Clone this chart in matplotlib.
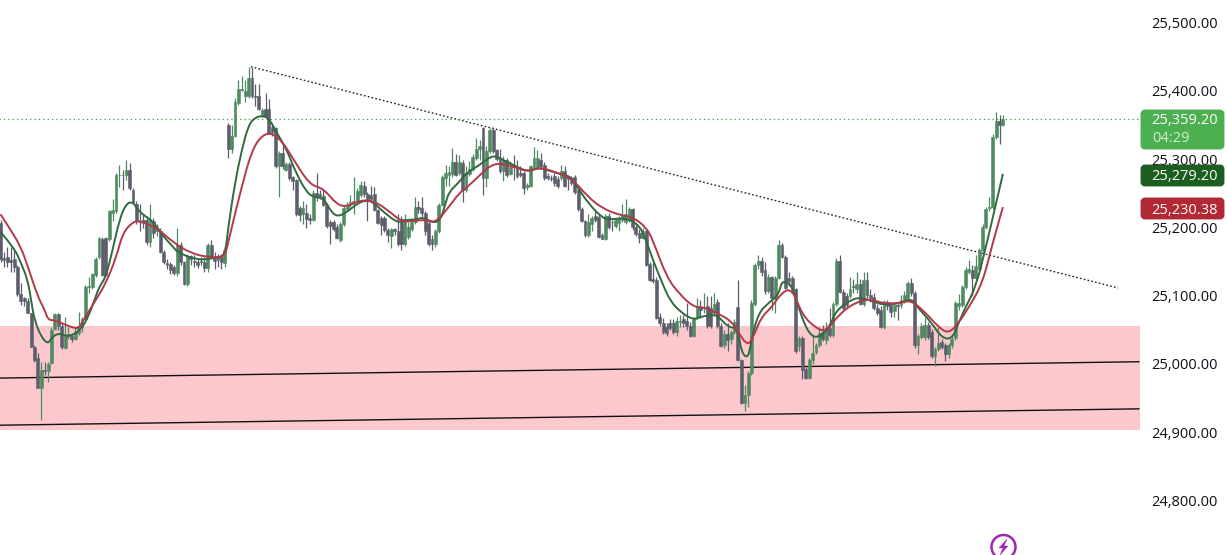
import matplotlib
matplotlib.use("Agg")
import matplotlib.pyplot as plt
from matplotlib.path import Path
from matplotlib.patches import FancyBboxPatch, Circle, Polygon, PathPatch

opens = [
    25207, 25156, 25157, 25153, 25155, 25143, 25103, 25097, 25093, 25076,
    25026, 25009, 24966, 24992, 24991, 25002, 25052, 25074, 25056, 25024,
    25042, 25042, 25038, 25046, 25055, 25067, 25113, 25113, 25131, 25157,
    25183, 25185, 25183, 25222, 25224, 25277, 25278, 25277, 25285, 25256,
    25235, 25212, 25212, 25212, 25180, 25210, 25195, 25195, 25165, 25148,
    25147, 25143, 25134, 25175, 25150, 25118, 25159, 25151, 25150, 25151,
    25150, 25141, 25175, 25158, 25156, 25157, 25148, 25351, 25315, 25335,
    25383, 25402, 25393, 25393, 25419, 25393, 25393, 25364, 25374, 25374,
    25347, 25346, 25290, 25309, 25285, 25294, 25274, 25270, 25229, 25220,
    25222, 25214, 25212, 25251, 25250, 25246, 25234, 25209, 25209, 25202,
    25182, 25206, 25228, 25235, 25238, 25240, 25248, 25262, 25249, 25248,
    25249, 25226, 25214, 25214, 25197, 25188, 25198, 25195, 25213, 25176,
    25187, 25198, 25209, 25231, 25229, 25222, 25207, 25184, 25176, 25195,
    25234, 25273, 25278, 25279, 25296, 25280, 25295, 25256, 25279, 25286,
    25302, 25315, 25346, 25273, 25312, 25343, 25314, 25302, 25283, 25299,
    25279, 25292, 25289, 25281, 25280, 25260, 25262, 25289, 25289, 25300,
    25292, 25276, 25273, 25276, 25272, 25273, 25283, 25274, 25273, 25275,
    25256, 25228, 25210, 25190, 25205, 25217, 25216, 25189, 25184, 25218,
    25209, 25203, 25207, 25212, 25209, 25212, 25227, 25202, 25192, 25185,
    25195, 25147, 25125, 25124, 25069, 25061, 25055, 25061, 25061, 25047,
    25062, 25066, 25063, 25056, 25042, 25069, 25084, 25082, 25086, 25083,
    25075, 25092, 25057, 25028, 25044, 25037, 25047, 25084, 25006, 24944,
    24956, 24988, 25088, 25146, 25151, 25139, 25107, 25128, 25097, 25127,
    25175, 25158, 25127, 25127, 25110, 25027, 25039, 24993, 24980, 25007,
    25018, 25028, 25048, 25036, 25053, 25043, 25088, 25152, 25106, 25100,
    25100, 25115, 25111, 25118, 25089, 25124, 25102, 25099, 25083, 25080,
    25055, 25092, 25087, 25078, 25087, 25087, 25095, 25097, 25119, 25105,
    25028, 25040, 25040, 25058, 25048, 25012, 25022, 25033, 25028, 25016,
    25028, 25039, 25085, 25087, 25114, 25136, 25138, 25127, 25140, 25167,
    25201, 25229, 25231, 25333, 25357, 25351,
]
closes = [
    25155, 25153, 25150, 25150, 25142, 25103, 25093, 25093, 25076, 25026,
    25007, 24966, 24992, 24991, 25001, 25051, 25074, 25056, 25025, 25041,
    25044, 25037, 25048, 25057, 25067, 25114, 25115, 25132, 25155, 25185,
    25131, 25131, 25224, 25226, 25277, 25278, 25277, 25285, 25258, 25238,
    25212, 25211, 25209, 25180, 25212, 25193, 25197, 25165, 25150, 25146,
    25139, 25134, 25175, 25150, 25118, 25159, 25154, 25150, 25146, 25150,
    25141, 25175, 25158, 25152, 25153, 25150, 25168, 25315, 25335, 25385,
    25404, 25404, 25401, 25419, 25393, 25392, 25374, 25372, 25364, 25339,
    25340, 25290, 25309, 25290, 25294, 25273, 25268, 25220, 25219, 25229,
    25213, 25212, 25251, 25245, 25246, 25234, 25203, 25203, 25199, 25185,
    25206, 25229, 25234, 25238, 25239, 25254, 25263, 25249, 25242, 25242,
    25226, 25207, 25204, 25197, 25190, 25198, 25196, 25176, 25176, 25213,
    25202, 25208, 25231, 25228, 25222, 25195, 25176, 25176, 25195, 25234,
    25275, 25280, 25282, 25296, 25278, 25296, 25256, 25280, 25286, 25304,
    25315, 25320, 25273, 25312, 25344, 25313, 25301, 25283, 25300, 25278,
    25289, 25289, 25276, 25277, 25258, 25263, 25290, 25302, 25302, 25290,
    25273, 25273, 25272, 25265, 25261, 25283, 25262, 25271, 25265, 25253,
    25227, 25210, 25190, 25208, 25214, 25212, 25187, 25184, 25218, 25201,
    25208, 25211, 25214, 25219, 25221, 25227, 25201, 25191, 25185, 25195,
    25146, 25124, 25122, 25068, 25060, 25047, 25046, 25053, 25047, 25063,
    25064, 25061, 25057, 25042, 25067, 25086, 25080, 25084, 25056, 25056,
    25089, 25056, 25027, 25044, 25036, 25047, 25062, 25007, 24944, 24956,
    24988, 25090, 25146, 25151, 25136, 25107, 25128, 25097, 25127, 25175,
    25158, 25112, 25122, 25110, 25019, 25039, 24992, 24980, 25007, 25017,
    25028, 25046, 25037, 25053, 25043, 25088, 25152, 25106, 25082, 25087,
    25111, 25113, 25118, 25089, 25124, 25102, 25097, 25083, 25075, 25055,
    25089, 25085, 25077, 25087, 25086, 25095, 25102, 25119, 25105, 25028,
    25041, 25056, 25058, 25040, 25012, 25022, 25032, 25026, 25015, 25028,
    25038, 25090, 25090, 25113, 25139, 25140, 25126, 25144, 25167, 25202,
    25227, 25231, 25333, 25357, 25351, 25359.2,
]
highs = [
    25212, 25165, 25172, 25172, 25168, 25146, 25119, 25099, 25097, 25076,
    25028, 25017, 25004, 25004, 25003, 25055, 25075, 25075, 25060, 25069,
    25055, 25045, 25055, 25077, 25070, 25116, 25128, 25134, 25157, 25187,
    25186, 25187, 25226, 25243, 25280, 25292, 25285, 25299, 25295, 25258,
    25240, 25235, 25220, 25218, 25235, 25215, 25205, 25200, 25167, 25155,
    25150, 25146, 25200, 25180, 25152, 25162, 25160, 25160, 25155, 25157,
    25158, 25178, 25182, 25165, 25162, 25162, 25172, 25353, 25350, 25390,
    25416, 25423, 25416, 25435, 25435, 25411, 25410, 25375, 25397, 25388,
    25350, 25348, 25312, 25325, 25297, 25296, 25276, 25272, 25232, 25240,
    25235, 25220, 25255, 25280, 25255, 25255, 25236, 25212, 25211, 25206,
    25208, 25232, 25238, 25248, 25275, 25258, 25268, 25268, 25252, 25262,
    25260, 25228, 25218, 25217, 25200, 25200, 25200, 25220, 25218, 25220,
    25208, 25212, 25245, 25240, 25245, 25225, 25210, 25190, 25198, 25237,
    25277, 25292, 25290, 25317, 25308, 25306, 25300, 25290, 25298, 25308,
    25332, 25328, 25348, 25320, 25346, 25347, 25315, 25315, 25305, 25302,
    25298, 25307, 25300, 25290, 25284, 25266, 25292, 25318, 25314, 25310,
    25297, 25280, 25278, 25280, 25276, 25292, 25290, 25278, 25276, 25278,
    25258, 25230, 25212, 25220, 25218, 25225, 25220, 25192, 25220, 25222,
    25212, 25215, 25218, 25235, 25242, 25230, 25229, 25205, 25198, 25200,
    25197, 25150, 25150, 25128, 25075, 25068, 25060, 25067, 25067, 25070,
    25072, 25072, 25090, 25062, 25070, 25098, 25095, 25105, 25100, 25100,
    25105, 25096, 25060, 25050, 25060, 25050, 25066, 25123, 25008, 24970,
    24990, 25095, 25148, 25160, 25158, 25150, 25132, 25130, 25130, 25182,
    25178, 25160, 25135, 25130, 25112, 25042, 25042, 24996, 25010, 25042,
    25032, 25055, 25058, 25062, 25082, 25092, 25156, 25160, 25110, 25105,
    25128, 25125, 25135, 25125, 25135, 25135, 25110, 25105, 25088, 25085,
    25095, 25095, 25092, 25090, 25090, 25102, 25108, 25122, 25127, 25108,
    25044, 25060, 25068, 25062, 25052, 25025, 25055, 25038, 25031, 25032,
    25043, 25093, 25103, 25116, 25142, 25153, 25145, 25160, 25170, 25205,
    25230, 25245, 25337, 25369, 25365, 25365,
]
lows = [
    25150, 25142, 25143, 25135, 25135, 25100, 25087, 25085, 25075, 25025,
    25003, 24966, 24918, 24985, 24974, 25000, 25050, 25050, 25022, 25022,
    25038, 25033, 25036, 25043, 25048, 25065, 25105, 25110, 25128, 25155,
    25129, 25129, 25181, 25210, 25222, 25260, 25255, 25270, 25256, 25236,
    25205, 25195, 25200, 25175, 25172, 25185, 25188, 25163, 25147, 25140,
    25133, 25131, 25130, 25145, 25116, 25115, 25145, 25142, 25141, 25146,
    25135, 25135, 25155, 25140, 25143, 25140, 25142, 25302, 25310, 25333,
    25380, 25400, 25385, 25390, 25390, 25378, 25372, 25363, 25362, 25337,
    25335, 25288, 25245, 25286, 25283, 25270, 25255, 25218, 25210, 25205,
    25200, 25206, 25210, 25240, 25242, 25232, 25200, 25176, 25195, 25183,
    25180, 25203, 25225, 25230, 25220, 25238, 25245, 25245, 25210, 25238,
    25225, 25205, 25190, 25194, 25180, 25170, 25190, 25173, 25168, 25174,
    25183, 25195, 25206, 25222, 25216, 25190, 25174, 25168, 25172, 25192,
    25232, 25262, 25262, 25275, 25276, 25278, 25238, 25253, 25276, 25283,
    25300, 25300, 25248, 25260, 25310, 25310, 25298, 25280, 25268, 25275,
    25277, 25270, 25273, 25275, 25250, 25255, 25260, 25287, 25287, 25288,
    25270, 25270, 25268, 25262, 25258, 25270, 25260, 25255, 25263, 25250,
    25225, 25208, 25187, 25187, 25195, 25208, 25185, 25183, 25182, 25198,
    25196, 25200, 25195, 25208, 25205, 25208, 25197, 25188, 25178, 25183,
    25144, 25122, 25120, 25066, 25056, 25045, 25042, 25050, 25044, 25042,
    25055, 25055, 25050, 25040, 25040, 25066, 25068, 25075, 25054, 25054,
    25073, 25054, 25025, 25024, 25020, 25030, 25044, 25005, 24942, 24932,
    24938, 24985, 25085, 25140, 25130, 25103, 25104, 25080, 25075, 25125,
    25156, 25110, 25115, 25108, 25017, 25020, 24978, 24978, 24978, 25000,
    25015, 25025, 25035, 25030, 25040, 25040, 25085, 25104, 25078, 25083,
    25098, 25105, 25105, 25087, 25086, 25098, 25092, 25080, 25072, 25053,
    25052, 25080, 25070, 25070, 25065, 25083, 25090, 25093, 25100, 25024,
    25016, 25037, 25036, 25037, 25010, 24998, 25020, 25023, 25005, 25010,
    25024, 25036, 25080, 25084, 25110, 25132, 25100, 25124, 25137, 25165,
    25198, 25225, 25228, 25330, 25323, 25349,
]

# fast moving average, sampled at these bars
fast_bars = [
    0, 4, 6, 8, 9, 10, 12, 14, 15, 17, 19, 21, 24, 26, 28, 29, 31, 33, 35, 37,
    39, 40, 42, 45, 48, 51, 52, 56, 60, 63, 66, 67, 69, 71, 73, 75, 77, 79, 82, 84,
    87, 90, 92, 95, 97, 99, 102, 105, 108, 110, 113, 117, 119, 123, 124, 129, 131, 132, 135, 137,
    141, 144, 146, 148, 151, 155, 158, 160, 164, 168, 170, 173, 177, 179, 184, 188, 190, 192, 195, 197,
    200, 204, 206, 209, 211, 214, 217, 218, 220, 221, 223, 226, 229, 230, 233, 235, 238, 241, 244, 246,
    251, 254, 257, 260, 265, 268, 270, 274, 277, 280, 282, 284, 287, 290, 293, 295,
]
fast_values = [
    25194, 25171, 25149, 25124, 25094, 25065, 25040, 25030, 25039, 25046, 25042, 25042, 25053, 25072, 25099, 25113, 25128, 25168, 25212, 25236,
    25238, 25229, 25219, 25209, 25187, 25171, 25165, 25156, 25153, 25157, 25157, 25200, 25266, 25314, 25351, 25362, 25364, 25361, 25333, 25317,
    25280, 25253, 25245, 25244, 25226, 25216, 25223, 25236, 25241, 25236, 25222, 25207, 25212, 25212, 25216, 25204, 25236, 25253, 25267, 25280,
    25292, 25304, 25305, 25299, 25292, 25282, 25288, 25286, 25280, 25275, 25258, 25236, 25215, 25212, 25215, 25204, 25182, 25153, 25116, 25094,
    25077, 25065, 25070, 25072, 25072, 25055, 25053, 25018, 25008, 25036, 25075, 25090, 25102, 25124, 25116, 25080, 25043, 25039, 25055, 25080,
    25097, 25097, 25092, 25087, 25090, 25097, 25083, 25061, 25039, 25037, 25061, 25084, 25113, 25172, 25236, 25279.2,
]

# slow moving average
slow_bars = [
    0, 3, 6, 8, 11, 13, 14, 16, 20, 23, 24, 28, 31, 34, 36, 39, 41, 46, 51, 56,
    61, 66, 67, 71, 74, 77, 80, 83, 86, 91, 95, 99, 102, 106, 110, 114, 118, 121, 125, 128,
    132, 135, 137, 141, 145, 150, 155, 159, 164, 168, 173, 177, 182, 186, 190, 192, 196, 200, 204, 207,
    211, 215, 217, 220, 222, 224, 227, 230, 233, 236, 240, 243, 247, 252, 256, 260, 265, 268, 272, 276,
    279, 282, 285, 289, 292, 295,
]
slow_values = [
    25220, 25197, 25172, 25144, 25099, 25080, 25065, 25065, 25056, 25052, 25062, 25094, 25119, 25156, 25193, 25209, 25210, 25200, 25178, 25163,
    25157, 25157, 25179, 25261, 25314, 25336, 25339, 25326, 25302, 25263, 25258, 25234, 25231, 25241, 25239, 25226, 25209, 25210, 25212, 25207,
    25231, 25251, 25258, 25277, 25295, 25292, 25282, 25289, 25280, 25273, 25245, 25229, 25219, 25216, 25201, 25182, 25128, 25102, 25084, 25084,
    25075, 25064, 25048, 25026, 25046, 25070, 25084, 25106, 25111, 25072, 25053, 25048, 25075, 25092, 25096, 25089, 25090, 25094, 25077, 25055,
    25045, 25061, 25084, 25119, 25178, 25230.38,
]

# horizontal zone and the three drawn trendlines, (bar, price) at each end
zone_low, zone_high = 24904, 25056
rising_upper = ([-1, 335], [24980, 25004])
rising_lower = ([-1, 335], [24911, 24935])
falling = ([73.7, 328.9], [25436, 25112])

last_price = 25359.20
tick_prices = [25500, 25400, 25300, 25200, 25100, 25000, 24900, 24800]

BODY_UP = "#4f8a60"
BODY_DOWN = "#5c5f6b"
SCALE_LEFT = 1140


def smooth_line(axis, xs, ys, color):
    # quadratic path through the midpoints so the average has no sharp corners
    pts = list(zip(xs, ys))
    verts = [pts[0]]
    codes = [Path.MOVETO]
    for k in range(1, len(pts) - 1):
        mid = ((pts[k][0] + pts[k + 1][0]) / 2, (pts[k][1] + pts[k + 1][1]) / 2)
        verts += [pts[k], mid]
        codes += [Path.CURVE3, Path.CURVE3]
    verts.append(pts[-1])
    codes.append(Path.LINETO)
    axis.add_patch(PathPatch(Path(verts, codes), fill=False, edgecolor=color, lw=1.4, zorder=5))


fig = plt.figure(figsize=(12.27, 5.55), dpi=100)
ax = fig.add_axes([0, 0, 1, 1])
bar_px = 3.398
ax.set_xlim(-0.5 / bar_px, (1227 - 0.5) / bar_px)
ax.set_ylim(24721, 25533.7)
ax.axis("off")

scale_bar = (SCALE_LEFT - 0.5) / bar_px
ax.fill_between([-1, scale_bar], zone_low, zone_high, color="#fcc8ce", lw=0, zorder=1)

ax.plot(*rising_upper, color="#111111", lw=1, zorder=2)
ax.plot(*rising_lower, color="#111111", lw=1, zorder=2)
ax.plot(*falling, color="#222222", lw=1, linestyle=(0, (1.2, 1.6)), zorder=2)
ax.plot([-1, scale_bar], [last_price, last_price], color="#3f9a4c", lw=0.9,
        linestyle=(0, (1, 2.5)), zorder=2)

# candles
for i in range(len(opens)):
    col = BODY_UP if closes[i] >= opens[i] else BODY_DOWN
    ax.vlines(i, lows[i], highs[i], color=col, lw=0.9, zorder=3)
    bottom = min(opens[i], closes[i])
    ax.bar(i, abs(closes[i] - opens[i]), bottom=bottom, width=0.85, color=col,
           edgecolor=col, linewidth=0.4, zorder=4)

smooth_line(ax, fast_bars, fast_values, "#2f6b3c")
smooth_line(ax, slow_bars, slow_values, "#b2394a")

# price scale, drawn in pixels on a second transparent axes
over = fig.add_axes([0, 0, 1, 1])
over.set_xlim(0, 1227)
over.set_ylim(555, 0)
over.axis("off")
over.patch.set_alpha(0)
over.add_patch(plt.Rectangle((SCALE_LEFT, 0), 87, 555, color="white", lw=0, zorder=1))

font = ["Open Sans", "DejaVu Sans"]
for p in tick_prices:
    y = 24.5 + (25500 - p) * 0.6829
    over.text(1184.5, y, f"{p:,.2f}", ha="center", va="center", fontsize=10.5,
              color="#0f1118", family=font, zorder=2)


def price_box(top, bottom, face):
    box = FancyBboxPatch((1143, top + 2), 79, bottom - top - 4,
                         boxstyle="round,pad=0,rounding_size=2", mutation_aspect=1,
                         facecolor=face, edgecolor=face, lw=3.5, zorder=3)
    over.add_patch(box)


price_box(110, 149, "#4caf50")
price_box(165, 186, "#1b5e20")
price_box(198, 219, "#b22833")

over.text(1185, 121, f"{last_price:,.2f}", ha="center", va="center", fontsize=10.5,
          color="white", family=font, zorder=4)
over.text(1152, 139, "04:29", ha="left", va="center", fontsize=10.5,
          color="#d5efd6", family=font, zorder=4)
over.text(1185, 176.5, f"{fast_values[-1]:,.2f}", ha="center", va="center", fontsize=10.5,
          color="white", family=font, zorder=4)
over.text(1185, 210, f"{slow_values[-1]:,.2f}", ha="center", va="center", fontsize=10.5,
          color="white", family=font, zorder=4)

# lightning badge at the bottom edge
purple = "#9c27b0"
over.add_patch(Circle((1003.5, 547), 12, facecolor="white", edgecolor=purple, lw=1.8, zorder=3))
over.add_patch(Polygon([(1007, 539), (999, 548), (1003, 548), (1000, 555), (1008, 546), (1004, 546)],
                       closed=True, facecolor=purple, edgecolor=purple, lw=0.3, zorder=4))

fig.savefig("out.png", dpi=100, facecolor="white")
